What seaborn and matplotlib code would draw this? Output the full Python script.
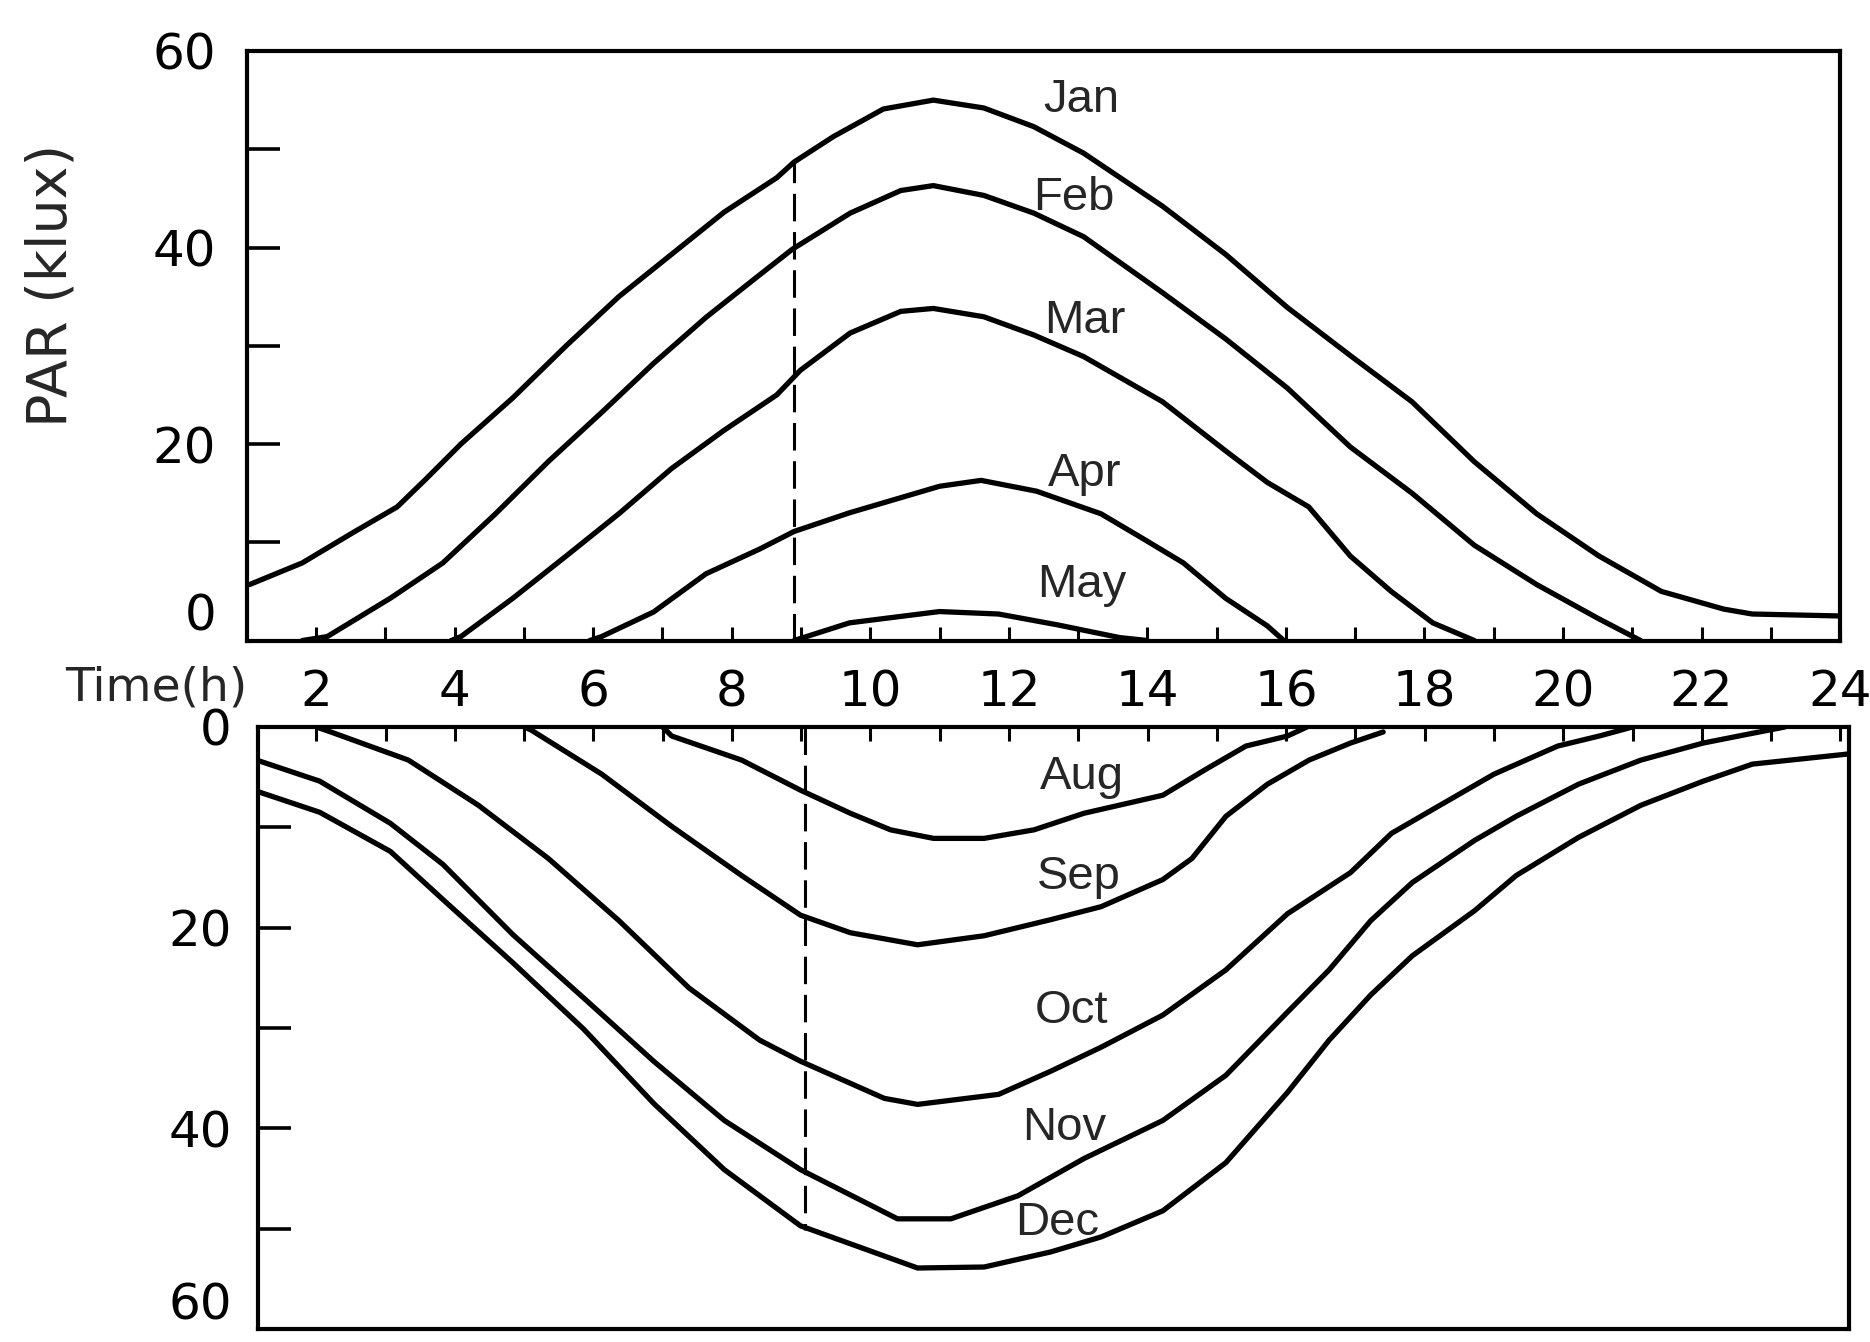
import matplotlib
matplotlib.use("Agg")
import matplotlib.pyplot as plt
import seaborn as sns
import pandas as pd

# PAR (klux), upper panel
jan_h = [1.04, 1.8, 2.56, 3.17, 3.58, 4.09, 4.84, 5.61, 6.37, 7.13, 7.89, 8.65, 8.9, 9.47, 10.19, 10.91, 11.64,
         12.36, 13.08, 14.22, 15.13, 16.02, 16.93, 17.82, 18.72, 19.62, 20.52, 21.42, 22.32, 22.73, 24]
jan_v = [5.7, 7.9, 11.1, 13.6, 16.4, 20.0, 24.7, 30.0, 35.0, 39.3, 43.6, 47.1, 48.7, 51.3, 54.1, 55.0, 54.2,
         52.3, 49.6, 44.2, 39.3, 33.9, 29.0, 24.3, 18.2, 12.9, 8.6, 5.0, 3.2, 2.7, 2.5]
feb_h = [1.8, 2.16, 3.07, 3.83, 4.59, 5.35, 6.12, 6.87, 7.63, 8.4, 8.87, 9.71, 10.44, 10.91, 11.64, 12.36,
         13.08, 14.22, 15.13, 16.02, 16.93, 17.82, 18.72, 19.62, 20.52, 21.12]
feb_v = [0, 0.4, 4.3, 7.9, 12.9, 18.2, 23.2, 28.2, 32.9, 37.2, 39.8, 43.5, 45.8, 46.3, 45.3, 43.5,
         41.1, 35.4, 30.7, 25.7, 19.7, 15.0, 9.7, 5.7, 2.2, 0]
mar_h = [3.95, 4.09, 4.84, 5.61, 6.37, 7.13, 7.89, 8.65, 8.99, 9.71, 10.44, 10.91, 11.64, 12.36, 13.08,
         14.22, 15.13, 15.73, 16.33, 16.93, 17.52, 18.12, 18.72]
mar_v = [0, 0.4, 4.3, 8.6, 12.9, 17.5, 21.4, 25.0, 27.5, 31.3, 33.5, 33.8, 32.95, 31.1, 28.9,
         24.3, 19.3, 16.1, 13.6, 8.6, 5.0, 1.8, 0]
apr_h = [5.95, 6.12, 6.87, 7.63, 8.4, 8.9, 9.7, 11, 11.6, 12.4, 13.33, 13.93, 14.52, 15.13, 15.73, 15.97]
apr_v = [0, 0.4, 2.9, 6.8, 9.3, 11.1, 13, 15.7, 16.3, 15.2, 12.9, 10.4, 7.9, 4.3, 1.5, 0]
may_h = [8.9, 9.7, 11, 11.85, 12.7, 13.6, 14]
may_v = [0, 1.8, 2.95, 2.7, 1.6, 0.3, 0]

# lower panel (Aug-Dec), axis runs downward
aug_h = [7, 7.13, 8.14, 8.99, 9.71, 10.29, 10.91, 11.64, 12.36, 13.08, 14.22, 14.82, 15.42, 16.02, 16.3]
aug_v = [0, 0.9, 3.3, 6.3, 8.6, 10.25, 11.1, 11.1, 10.25, 8.6, 6.8, 4.3, 1.9, 0.9, 0]
sep_h = [5.0, 5.1, 6.12, 7.13, 8.14, 8.99, 9.71, 10.68, 11.64, 12.6, 13.33, 14.22, 14.64, 15.13, 15.73,
         16.33, 16.93, 17.4]
sep_v = [0, 0.3, 4.7, 9.9, 14.8, 18.75, 20.5, 21.7, 20.8, 19.2, 17.9, 15.2, 13.1, 8.9, 5.7,
         3.3, 1.6, 0.5]
oct_h = [2.0, 2.21, 3.33, 4.34, 5.35, 6.37, 7.38, 8.4, 8.99, 10.2, 10.68, 11.85, 12.6, 13.33, 14.22,
         15.13, 16.02, 16.93, 17.52, 18.12, 19.0, 19.92, 20.52, 21.0]
oct_v = [0, 0.5, 3.3, 7.8, 13.1, 19.3, 26.0, 31.2, 33.3, 37.0, 37.6, 36.6, 34.3, 31.9, 28.7,
         24.2, 18.6, 14.5, 10.6, 8.2, 4.7, 1.9, 0.9, 0]
nov_h = [1.14, 2.05, 3.07, 3.83, 4.84, 5.86, 6.87, 7.89, 8.99, 10.39, 11.16, 12.13, 13.08, 14.22, 15.13,
         16.02, 16.62, 17.22, 17.82, 18.72, 19.32, 20.22, 21.12, 22.02, 22.68, 23.2]
nov_v = [3.3, 5.4, 9.6, 13.7, 20.7, 27.0, 33.3, 39.2, 44.1, 49.0, 49.0, 46.7, 43.0, 39.2, 34.7,
         28.4, 24.2, 19.3, 15.5, 11.3, 8.9, 5.7, 3.3, 1.6, 0.7, 0]
dec_h = [1.14, 2.05, 3.07, 3.83, 4.84, 5.86, 6.87, 7.89, 8.99, 10.68, 11.64, 12.6, 13.33, 14.22, 15.13,
         16.02, 16.62, 17.22, 17.82, 18.72, 19.32, 20.22, 21.12, 22.02, 22.73, 24.1]
dec_v = [6.4, 8.5, 12.4, 17.2, 23.5, 30.1, 37.5, 44.1, 49.7, 53.9, 53.8, 52.3, 50.8, 48.2, 43.4,
         36.4, 31.2, 26.7, 22.8, 18.3, 14.8, 11.0, 7.8, 5.4, 3.7, 2.7]

# dashed marker near 09 h
mark_h_top, mark_v_top = 8.9, 48.7
mark_h_bot, mark_v_bot = 9.05, 50.1

upper = {"Jan": (jan_h, jan_v), "Feb": (feb_h, feb_v), "Mar": (mar_h, mar_v),
         "Apr": (apr_h, apr_v), "May": (may_h, may_v)}
lower = {"Aug": (aug_h, aug_v), "Sep": (sep_h, sep_v), "Oct": (oct_h, oct_v),
         "Nov": (nov_h, nov_v), "Dec": (dec_h, dec_v)}

# label anchors (hour, klux)
label_pos = {"Jan": (13.05, 55.0), "Feb": (12.94, 45.0), "Mar": (13.1, 32.5),
             "Apr": (13.1, 17.0), "May": (13.05, 5.7),
             "Aug": (13.05, 5.0), "Sep": (13.0, 14.9), "Oct": (12.9, 28.3),
             "Nov": (12.8, 40.0), "Dec": (12.7, 49.4)}


def to_df(d):
    rows = []
    for m, (h, v) in d.items():
        for hh, vv in zip(h, v):
            rows.append((m, hh, vv))
    return pd.DataFrame(rows, columns=["month", "hour", "par"])


sns.set_style("ticks")
plt.rcParams["font.family"] = ["DejaVu Sans"]

fig = plt.figure(figsize=(18.7, 13.42), dpi=100)
ax_t = fig.add_axes([0.132, 0.5227, 0.852, 0.4393])
ax_b = fig.add_axes([0.138, 0.0095, 0.851, 0.4488])

for ax, d in [(ax_t, upper), (ax_b, lower)]:
    sns.lineplot(data=to_df(d), x="hour", y="par", units="month", estimator=None,
                 sort=False, color="black", linewidth=3.8, ax=ax, legend=False,
                 solid_joinstyle="round", solid_capstyle="round")
    for m in d:
        hx, vy = label_pos[m]
        ax.text(hx, vy, m, fontsize=34, ha="center", va="center",
                family=["Liberation Sans", "DejaVu Sans"])
    for s in ax.spines.values():
        s.set_linewidth(3)
        s.set_color("black")
    ax.set_xlabel("")
    ax.set_ylabel("")
    ax.set_xticks(range(2, 25, 2))
    ax.set_xticks(range(1, 25, 2), minor=True)
    ax.set_yticks([0, 20, 40, 60])
    ax.set_yticks([10, 30, 50], minor=True)
    ax.tick_params(axis="x", which="both", direction="in", length=10, width=2.2,
                   labelsize=36, pad=20, colors="black")

ax_t.tick_params(axis="y", which="both", direction="in", length=24, width=2.6,
                 labelsize=36, pad=22, colors="black")
ax_b.tick_params(axis="y", which="both", direction="in", length=24, width=2.6,
                 labelsize=36, pad=19, colors="black")

ax_t.set_xlim(1, 24)
ax_t.set_ylim(0, 60)
ax_t.plot([mark_h_top, mark_h_top], [0, mark_v_top], color="black", lw=2.2,
          linestyle=(0, (9, 3.5)))

ax_b.set_xlim(1.16, 24.13)
ax_b.set_ylim(60, 0)
ax_b.xaxis.tick_top()
ax_b.tick_params(axis="x", which="both", labeltop=False, labelbottom=False)
ax_b.plot([mark_h_bot, mark_h_bot], [0, mark_v_bot], color="black", lw=2.2,
          linestyle=(0, (9, 3.5)))

# edge labels sit inside the frame, as in the original
ax_t.get_yticklabels()[0].set_va("bottom")
ax_b.get_yticklabels()[-1].set_va("bottom")

fig.text(0.0834, 0.487, "Time(h)", fontsize=34, ha="center", va="center")
fig.text(0.0273, 0.787, "PAR (klux)", fontsize=40, rotation=90, ha="center", va="center")

fig.savefig("out.png", dpi=100, facecolor="white")
